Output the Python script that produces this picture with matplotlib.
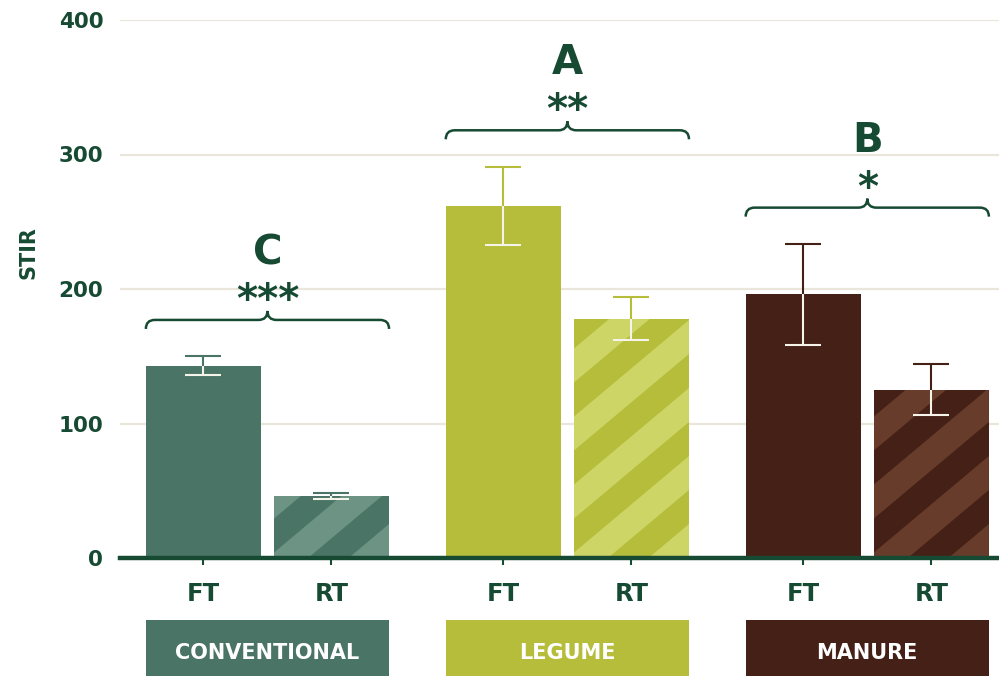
import matplotlib
matplotlib.use("Agg")
import matplotlib.pyplot as plt
import numpy as np
from matplotlib.patches import Rectangle, Polygon, PathPatch
from matplotlib.path import Path
from matplotlib.transforms import IdentityTransform, blended_transform_factory

# data
groups = ["CONVENTIONAL", "LEGUME", "MANURE"]
tillage = ["FT", "RT"]
stir_mean = [[143, 46], [262, 178], [196, 125]]
stir_err = [[7, 2.5], [29, 16], [37.5, 19]]
group_letters = ["C", "A", "B"]
group_stars = ["***", "**", "*"]

colors = ["#4a7566", "#b5bd3a", "#452016"]
stripe_colors = ["#6c9383", "#cdd566", "#673c2b"]
dark = "#174a33"
light = "#f6f3ea"

plt.rcParams["font.family"] = "DejaVu Sans"
plt.rcParams["font.weight"] = "bold"

fig = plt.figure(figsize=(9.99, 6.76), dpi=100)
ax = fig.add_axes([120/999, 118/676, 879/999, 538/676])

centers = np.arange(len(groups)) * 2.343
width = 0.9
ax.set_xlim(-1.152, 5.715)
ax.set_ylim(0, 400)
sx = 879 / (5.715 + 1.152)   # px per x unit
sy = 538 / 400               # px per y unit

xt, xl = [], []
for g, name in enumerate(groups):
    xs = [centers[g] - 0.5, centers[g] + 0.5]
    for k in range(2):
        h, e = stir_mean[g][k], stir_err[g][k]
        bar = ax.bar(xs[k], h, width=width, color=colors[g], zorder=2)[0]
        if k == 1:
            # diagonal stripes for reduced tillage (pixel space)
            (x0, y0), (x1, y1) = ax.transData.transform([[xs[k] - width/2, 0], [xs[k] + width/2, h]])
            period, band, t = 68, 34, np.tan(np.radians(40))
            rise = (x1 - x0) * t
            c = -rise - period
            while c < (y1 - y0):
                poly = Polygon([(x0, y0 + c), (x1, y0 + c + rise), (x1, y0 + c + band + rise),
                                (x0, y0 + c + band)],
                               closed=True, color=stripe_colors[g], lw=0,
                               transform=IdentityTransform(), zorder=2.1)
                ax.add_patch(poly)
                poly.set_clip_path(bar)
                c += period
        eb = ax.errorbar(xs[k], h, yerr=e, fmt="none", ecolor=colors[g], elinewidth=1.5,
                         capsize=13, capthick=1.5, zorder=3)
        eb2 = ax.errorbar(xs[k], h, yerr=e, fmt="none", ecolor=light, elinewidth=1.5,
                          capsize=13, capthick=1.5, zorder=4)
        for art in list(eb2.lines[1]) + list(eb2.lines[2]):
            art.set_clip_path(bar)
        xt.append(xs[k])
        xl.append(tillage[k])

    # curly bracket with letter and stars
    top = max(m + s for m, s in zip(stir_mean[g], stir_err[g]))
    yb = top + 27
    x0, x1, xm = xs[0] - width/2, xs[1] + width/2, centers[g]
    rx, ry = 9 / sx, 9 / sy
    verts = [(x0, yb - ry), (x0, yb), (x0 + rx, yb), (xm - rx, yb), (xm, yb), (xm, yb + ry),
             (xm, yb), (xm + rx, yb), (x1 - rx, yb), (x1, yb), (x1, yb - ry)]
    codes = [Path.MOVETO, Path.CURVE3, Path.CURVE3, Path.LINETO, Path.CURVE3, Path.CURVE3,
             Path.CURVE3, Path.CURVE3, Path.LINETO, Path.CURVE3, Path.CURVE3]
    ax.add_patch(PathPatch(Path(verts, codes), fill=False, ec=dark, lw=1.8, clip_on=False, zorder=5))
    ax.text(xm, yb + 6, group_stars[g], ha="center", va="baseline", fontsize=29,
            color=dark, clip_on=False)
    ax.text(xm, yb + 41.5, group_letters[g], ha="center", va="baseline", fontsize=29,
            color=dark, clip_on=False)

    # group box under the axis
    tr = blended_transform_factory(ax.transData, ax.transAxes)
    ax.add_patch(Rectangle((x0, -0.2193), x1 - x0, 0.1041, transform=tr, color=colors[g],
                           clip_on=False, lw=0))
    ax.text(xm, -0.1877, name, transform=tr, ha="center", va="baseline", fontsize=15,
            color="white", clip_on=False)

ax.set_xticks(xt, xl)
ax.set_yticks([0, 100, 200, 300, 400])
ax.tick_params(axis="x", length=5, width=1.5, color=dark, pad=12, labelsize=17.5, labelcolor=dark)
ax.tick_params(axis="y", length=0, pad=12, labelsize=15.5, labelcolor=dark)
ax.yaxis.grid(True, color="#ebe6dc", lw=1.6, zorder=0)
ax.set_axisbelow(True)
for s in ["top", "right", "left"]:
    ax.spines[s].set_visible(False)
ax.spines["bottom"].set_color(dark)
ax.spines["bottom"].set_linewidth(3.2)
ax.spines["bottom"].set_zorder(6)

fig.text(28/999, 1 - 253/676, "STIR", rotation=90, ha="center", va="center", fontsize=15, color=dark)

fig.savefig("out.png", dpi=100)
